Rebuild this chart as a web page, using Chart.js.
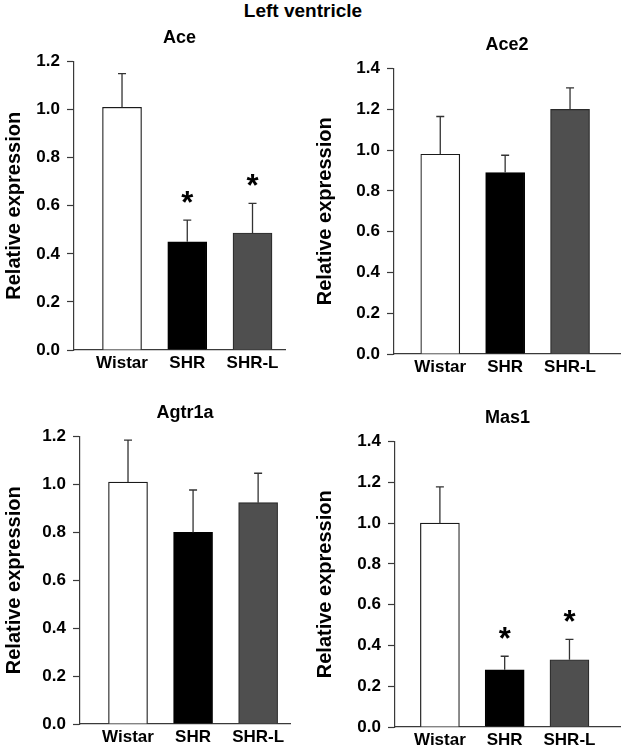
<!DOCTYPE html>
<html>
<head>
<meta charset="utf-8">
<script src="https://cdn.jsdelivr.net/npm/chart.js@4"></script>
<style>
  html,body{margin:0;padding:0;background:#fff;}
  body{width:622px;height:750px;position:relative;overflow:hidden;font-family:"Liberation Sans",Arial,sans-serif;}
  .main-title{position:absolute;left:0;top:0;width:606px;text-align:center;font-weight:bold;font-size:19px;line-height:22px;color:#000;}
  canvas{position:absolute;}
</style>
</head>
<body>
<div class="main-title">Left ventricle</div>
<canvas id="c-ace"></canvas>
<canvas id="c-ace2"></canvas>
<canvas id="c-agtr1a"></canvas>
<canvas id="c-mas1"></canvas>
<script>
/* ---------- datos ---------- */
const groups=['Wistar','SHR','SHR-L'];

const aceMean=[1.01,0.45,0.487];
const aceErr=[1.15,0.54,0.61];
const aceSig=[false,true,true];

const ace2Mean=[0.98,0.89,1.20];
const ace2Err=[1.165,0.975,1.305];
const ace2Sig=[false,false,false];

const agtrMean=[1.01,0.80,0.924];
const agtrErr=[1.185,0.977,1.047];
const agtrSig=[false,false,false];

const masMean=[1.0,0.281,0.33];
const masErr=[1.178,0.347,0.43];
const masSig=[false,true,true];

/* ---------- estilos ---------- */
const FONT='"Liberation Sans", Arial, sans-serif';
const barFill=['#ffffff','#000000','#4f4f4f'];
const barEdge=['#1a1a1a','#000000','#2a2a2a'];
const AXIS='#3a3a3a';

// barras de error (solo superior) + asteriscos
const errorBars={
  id:'errorBars',
  afterDatasetsDraw(chart,args,opts){
    const {ctx}=chart;
    const y=chart.scales.y;
    const meta=chart.getDatasetMeta(0);
    ctx.save();
    ctx.strokeStyle='#333';
    ctx.lineWidth=1.3;
    meta.data.forEach((bar,i)=>{
      const top=y.getPixelForValue(opts.err[i]);
      ctx.beginPath();
      ctx.moveTo(bar.x,bar.y);ctx.lineTo(bar.x,top);
      ctx.moveTo(bar.x-4,top);ctx.lineTo(bar.x+4,top);
      ctx.stroke();
      if(opts.sig[i]){
        ctx.fillStyle='#000';
        ctx.font='bold 31px '+FONT;
        ctx.textAlign='center';
        ctx.textBaseline='alphabetic';
        ctx.fillText('*',bar.x,top-7);
      }
    });
    ctx.restore();
  }
};

function makePanel(id,title,mean,err,sig,yMax,area,x0,xRange){
  const el=document.getElementById(id);
  const top=area.t-40.4;
  const w=area.r-x0+2, h=area.b-top+28;
  el.style.left=x0+'px';el.style.top=top+'px';
  el.style.width=w+'px';el.style.height=h+'px';
  el.width=w;el.height=h;
  return new Chart(el,{
    type:'bar',
    data:{datasets:[{
      data:mean.map((v,i)=>({x:i+1,y:v})),
      backgroundColor:barFill,borderColor:barEdge,borderWidth:1.2,
      barThickness:39,borderSkipped:'start'
    }]},
    options:{
      responsive:false,animation:false,
      layout:{padding:{left:0,right:2,top:0,bottom:0}},
      plugins:{
        legend:{display:false},tooltip:{enabled:false},
        title:{display:true,text:title,fullSize:false,color:'#000',font:{family:FONT,size:18,weight:'bold',lineHeight:1.2},padding:{top:6,bottom:13}},
        errorBars:{err:err,sig:sig}
      },
      scales:{
        x:{
          type:'linear',min:xRange[0],max:xRange[1],offset:false,
          afterBuildTicks:s=>{s.ticks=groups.map((g,i)=>({value:i+1}));},
          afterFit:s=>{s.height=28;},
          grid:{display:false,drawTicks:false},
          border:{display:true,color:AXIS,width:1.2},
          ticks:{color:'#000',font:{family:FONT,size:17,weight:'bold'},padding:3,autoSkip:false,maxRotation:0,
            callback:v=>groups[Math.round(v)-1]||''}
        },
        y:{
          min:0,max:yMax,
          afterFit:s=>{s.width=area.l-x0;},
          grid:{drawOnChartArea:false,drawTicks:true,tickLength:7,color:AXIS,tickWidth:1.2},
          border:{display:true,color:AXIS,width:1.2},
          ticks:{stepSize:0.2,color:'#000',padding:7,font:{family:FONT,size:17,weight:'bold'},callback:v=>v.toFixed(1)},
          title:{display:true,text:'Relative expression',color:'#000',font:{family:FONT,size:20,weight:'bold'},padding:{top:2,bottom:0}}
        }
      }
    },
    plugins:[errorBars]
  });
}

makePanel('c-ace','Ace',aceMean,aceErr,aceSig,1.2,{l:74,r:285,t:61,b:350},0,[0.264,3.498]);
makePanel('c-ace2','Ace2',ace2Mean,ace2Err,ace2Sig,1.4,{l:394,r:620,t:68,b:354},311,[0.287,3.77]);
makePanel('c-agtr1a','Agtr1a',agtrMean,agtrErr,agtrSig,1.2,{l:80,r:290,t:436,b:724},0,[0.262,3.49]);
makePanel('c-mas1','Mas1',masMean,masErr,masSig,1.4,{l:395,r:620,t:441,b:727},311,[0.307,3.78]);
</script>
</body>
</html>
